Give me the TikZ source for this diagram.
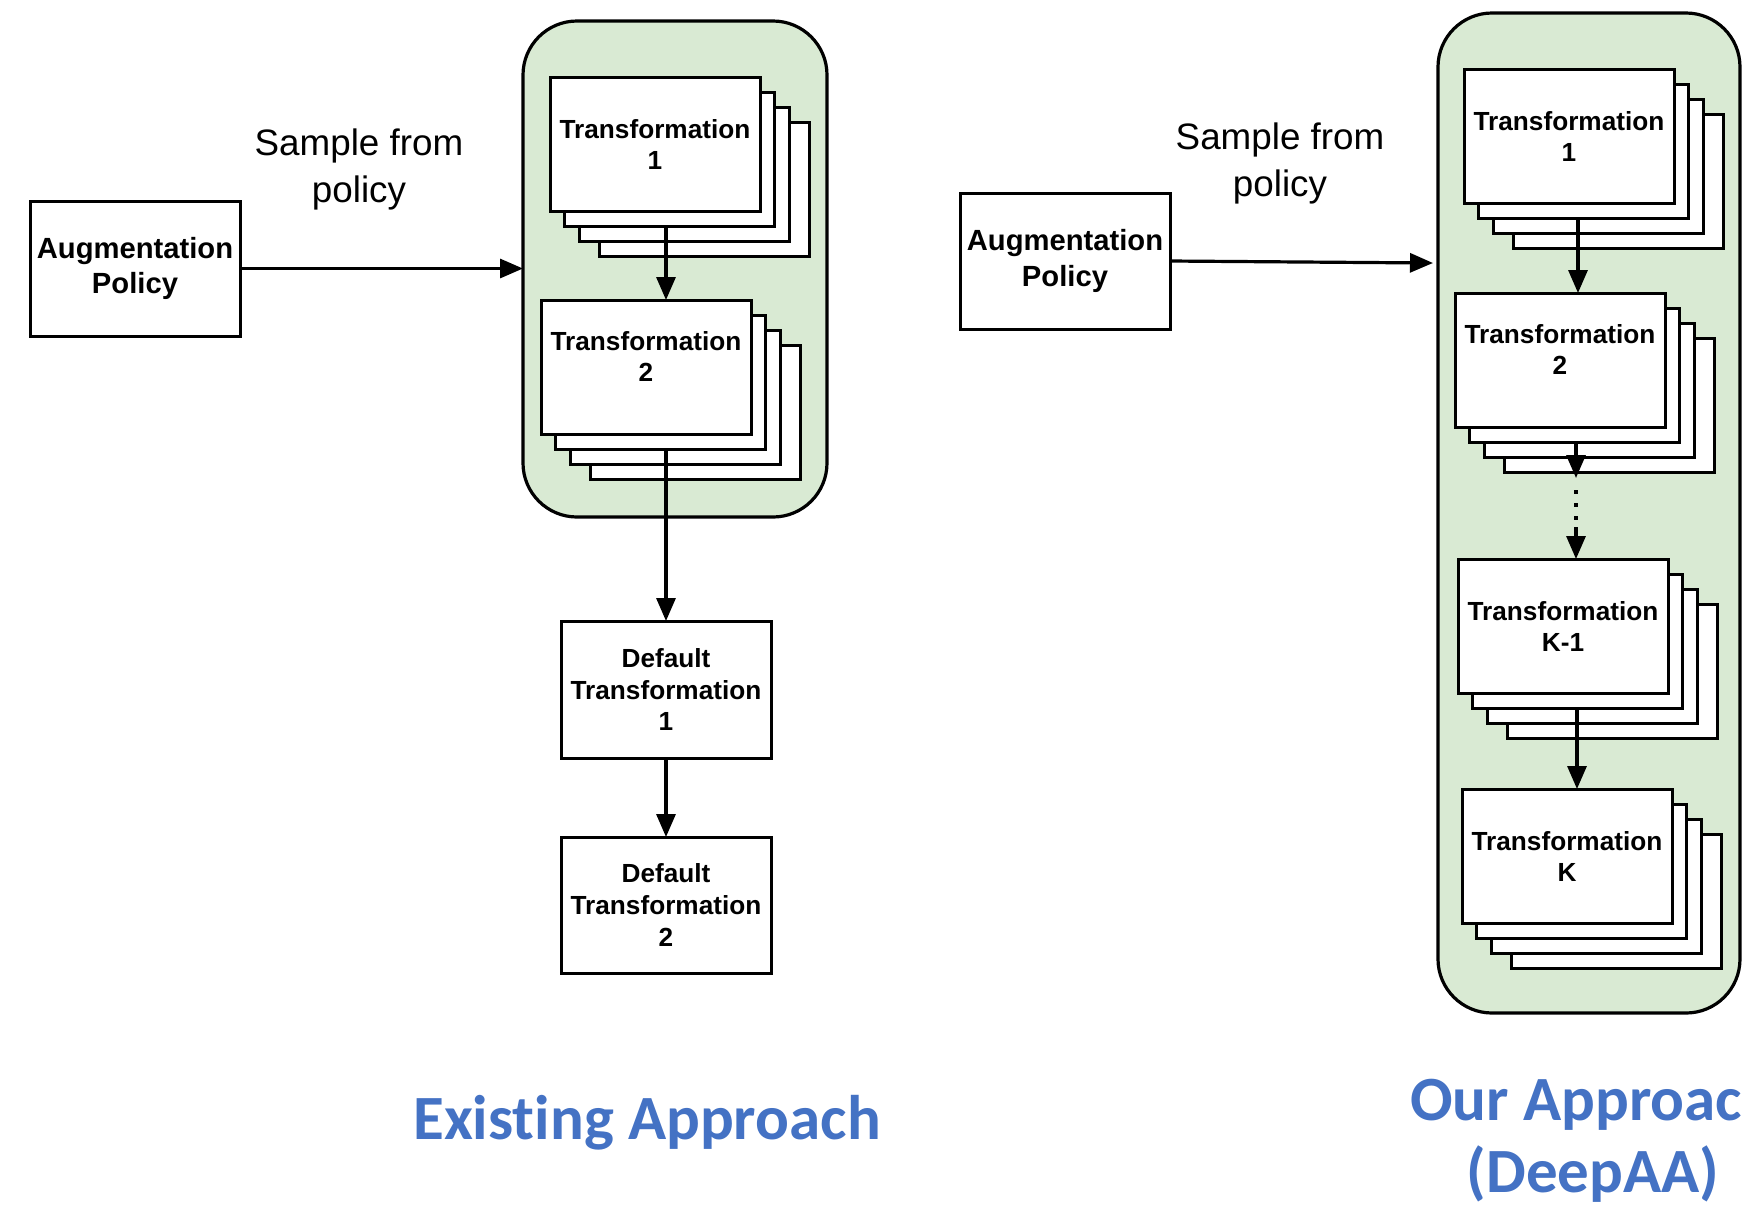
\documentclass[tikz,border=0pt]{standalone}
\usepackage{fontspec}
\setmainfont{Liberation Sans}
\newfontfamily\titlefont[Ligatures=NoCommon]{Carlito}
\usetikzlibrary{arrows.meta,calc}
\definecolor{boxgreen}{HTML}{D9EAD3}
\definecolor{titleblue}{HTML}{4472C4}
\tikzset{
  tbox/.style={draw, fill=white, line width=1.5pt, outer sep=0pt, inner sep=0pt,
    minimum width=105pt, minimum height=67pt, align=center,
    font=\fontsize{13.1pt}{15.5pt}\selectfont\bfseries},
  plainbox/.style={draw, fill=white, line width=1.5pt, outer sep=0pt, inner sep=0pt,
    minimum width=105pt, align=center,
    font=\fontsize{13.1pt}{15.8pt}\selectfont\bfseries},
  augbox/.style={draw, fill=white, line width=1.5pt, outer sep=0pt, inner sep=0pt,
    minimum width=105pt, minimum height=67.5pt, align=center,
    font=\fontsize{14.6pt}{17.8pt}\selectfont\bfseries},
  container/.style={draw, fill=boxgreen, line width=1.6pt, rounded corners=27pt,
    outer sep=0pt, inner sep=0pt},
  arr/.style={line width=1.6pt, -{Triangle[length=11.5pt,width=9.5pt]}},
  dotline/.style={line width=2pt, dash pattern=on 2pt off 4.5pt},
  samplelabel/.style={align=center, anchor=base, inner sep=0pt,
    font=\fontsize{18.4pt}{23.2pt}\selectfont},
  titlelabel/.style={align=center, anchor=base, inner sep=0pt, text=titleblue,
    font=\titlefont\bfseries\fontsize{31.5pt}{36pt}\selectfont},
}
\newcommand\tstack[5]{%
  \node[tbox, anchor=north west] (#1-d) at ({#2+49},{#3+45}) {};
  \node[tbox, anchor=north west] (#1-c) at ({#2+29},{#3+30}) {};
  \node[tbox, anchor=north west] (#1-b) at ({#2+14},{#3+15}) {};
  \node[tbox, anchor=north west, #5] (#1) at (#2,#3) {#4};
}
\begin{document}
\begin{tikzpicture}[x=0.5pt, y=-0.5pt]
\path[use as bounding box] (0,0) rectangle (1742,1212);
\clip (0,0) rectangle (1742,1212);

% ---------------- left: existing approach ----------------
\node[container, minimum width=152pt, minimum height=248pt] (contL) at (675,269) {};
\node[augbox, anchor=north west] (augL) at (30,201) {Augmentation\\Policy};
\node[samplelabel] (sampleL) at (359,202) {Sample from\\policy};

\tstack{LT1}{550}{77}{Transformation\\1}{}
\tstack{LT2}{541}{300}{Transformation\\2}{text depth=11pt}

\node[plainbox, anchor=north west, minimum height=68.5pt] (DT1) at (561,621) {Default\\Transformation\\1};
\node[plainbox, anchor=north west, minimum height=68pt] (DT2) at (561,837) {Default\\Transformation\\2};

\draw[arr] (augL.east) -- (augL.east -| contL.west);
\coordinate (l1s) at ($(LT1-b.south)+(-3,0)$);
\draw[arr] (l1s) -- (l1s |- LT2.north);
\draw[arr] (LT2-b.south -| DT1.north) -- (DT1.north);
\draw[arr] (DT1.south) -- (DT2.north);

\node[titlelabel] (titleL) at (647,1139) {Existing Approach};

% ---------------- right: our approach ----------------
\node[container, minimum width=151pt, minimum height=500pt] (contR) at (1589,513) {};
\node[augbox, anchor=north west, minimum height=68pt] (augR) at (960,193) {Augmentation\\Policy};
\node[samplelabel] (sampleR) at (1280,196) {Sample from\\policy};

\tstack{RT1}{1464}{69}{Transformation\\1}{}
\tstack{RT2}{1455}{293}{Transformation\\2}{text depth=11pt}
\tstack{RTK1}{1458}{559}{Transformation\\K-1}{}
\tstack{RTK}{1462}{789}{Transformation\\K}{}

\coordinate (rin) at ($(augR.east -| contR.west)+(-5,2)$);
\draw[arr] (augR.east) -- (rin);
\coordinate (r1s) at ($(RT1-b.south)+(-5,0)$);
\draw[arr] (r1s) -- (r1s |- RT2.north);

\coordinate (d1) at ($(RT2-b.south)+(2,36)$);
\coordinate (d0) at ($(RT2-b.south)+(2,0)$);
\coordinate (d2) at ($(RT2-b.south)+(2,48)$);
\coordinate (d3) at ($(RT2-b.south)+(2,80)$);
\coordinate (d4) at ($(RT2-b.south)+(2,85)$);
\draw[arr] (d0) -- (d1);
\draw[dotline] (d2) -- (d3);
\draw[arr] (d4) -- (d4 |- RTK1.north);
\draw[arr] (RTK1-b.south) -- (RTK1-b.south |- RTK.north);

\node[titlelabel] (titleR) at (1593,1192) {Our Approach\\(DeepAA)};
\end{tikzpicture}
\end{document}
